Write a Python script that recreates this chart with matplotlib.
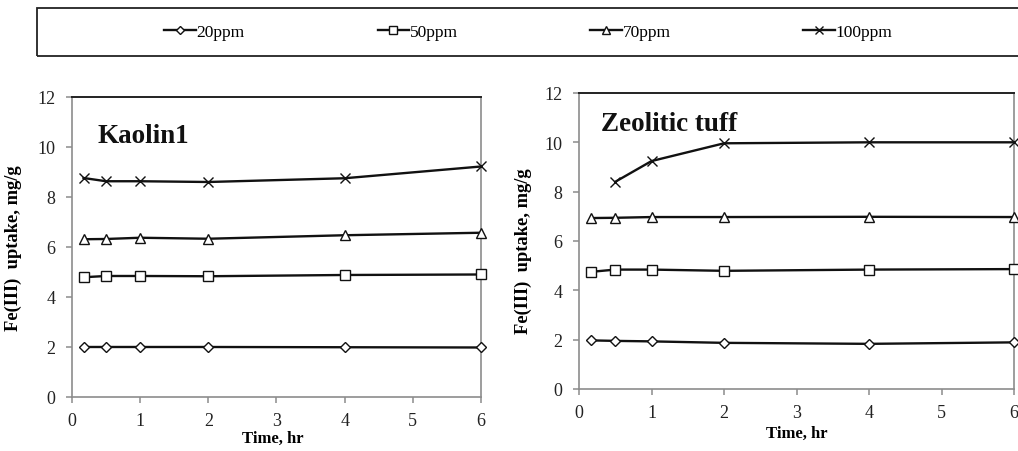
import matplotlib.pyplot as plt
from matplotlib.patches import Rectangle

plt.rcParams['font.family'] = ['Liberation Serif', 'DejaVu Serif']

# sampling times, hr
time_hr = [0.17, 0.5, 1, 2, 4, 6]

# Fe(III) uptake, mg/g  -- Kaolin1
kaolin_20 = [2.00, 2.00, 2.00, 2.00, 1.99, 1.98]
kaolin_50 = [4.79, 4.84, 4.84, 4.83, 4.88, 4.90]
kaolin_70 = [6.31, 6.32, 6.37, 6.33, 6.47, 6.57]
kaolin_100 = [8.76, 8.63, 8.63, 8.60, 8.75, 9.22]

# Fe(III) uptake, mg/g  -- Zeolitic tuff (100 ppm starts at 0.5 hr)
zeo_20 = [1.97, 1.95, 1.93, 1.87, 1.83, 1.89]
zeo_50 = [4.75, 4.84, 4.84, 4.79, 4.84, 4.86]
zeo_70 = [6.93, 6.94, 6.97, 6.97, 6.98, 6.97]
zeo_100_t = [0.5, 1, 2, 4, 6]
zeo_100 = [8.40, 9.24, 9.96, 10.00, 10.00]

labels = ['20ppm', '50ppm', '70ppm', '100ppm']
markers = ['D', 's', '^', 'x']
msizes = [4.8, 6.5, 6.5, 7]

GREY = '#8c8c8c'

fig = plt.figure(figsize=(10.18, 4.52), dpi=100)
ax1 = fig.add_axes([0.0707, 0.1195, 0.4018, 0.6637])
ax2 = fig.add_axes([0.5688, 0.1372, 0.4273, 0.6549])


def draw_panel(ax, series, title, title_xy, ylab_xy, xlab_xy):
    handles = []
    for (t, y), m, ms, lab in zip(series, markers, msizes, labels):
        h, = ax.plot(t, y, color='#111111', lw=1.7, marker=m, ms=ms,
                     mfc='white', mec='#111111', mew=1.0, label=lab,
                     clip_on=False, zorder=3)
        handles.append(h)
    ax.set_xlim(0, 6)
    ax.set_ylim(0, 12)
    ax.set_xticks(range(0, 7))
    ax.set_yticks(range(0, 13, 2))
    for s in ['left', 'bottom', 'right']:
        ax.spines[s].set_color(GREY)
        ax.spines[s].set_linewidth(1.2)
    ax.spines['top'].set_color('#222222')
    ax.spines['top'].set_linewidth(1.4)
    ax.tick_params(direction='out', length=4, width=1.1, color=GREY,
                   labelsize=13, labelcolor='#222222')
    ax.tick_params(axis='y', pad=8)
    ax.tick_params(axis='x', pad=7)
    ax.set_ylabel('Fe(III)  uptake, mg/g', fontsize=13.3, fontweight='bold')
    ax.set_xlabel('Time, hr', fontsize=12, fontweight='bold')
    ax.yaxis.set_label_coords(*ylab_xy)
    ax.xaxis.set_label_coords(*xlab_xy)
    ax.text(title_xy[0], title_xy[1], title, fontsize=19.5,
            fontweight='bold', va='baseline', color='#111111')
    return handles


kaolin = [(time_hr, kaolin_20), (time_hr, kaolin_50),
          (time_hr, kaolin_70), (time_hr, kaolin_100)]
zeolite = [(time_hr, zeo_20), (time_hr, zeo_50),
           (time_hr, zeo_70), (zeo_100_t, zeo_100)]

handles = draw_panel(ax1, kaolin, 'Kaolin1', (0.38, 10.2),
                     (-0.122, 0.5), (0.49, -0.11))
draw_panel(ax2, zeolite, 'Zeolitic tuff', (0.30, 10.5),
           (-0.108, 0.47), (0.50, -0.12))

# shared legend strip across the top
fig.patches.append(Rectangle((37 / 1018, 1 - 57 / 452), 1.0, 48 / 452,
                             transform=fig.transFigure, fill=False,
                             ec='#222222', lw=1.3))
fig.legend(handles=handles, labels=labels, loc='center',
           bbox_to_anchor=(0.519, 1 - 33 / 452), ncol=4, frameon=False,
           fontsize=12.5, handlelength=1.8, handletextpad=0.05,
           columnspacing=7.65, markerscale=0.8)

fig.savefig('out.png', dpi=100)
